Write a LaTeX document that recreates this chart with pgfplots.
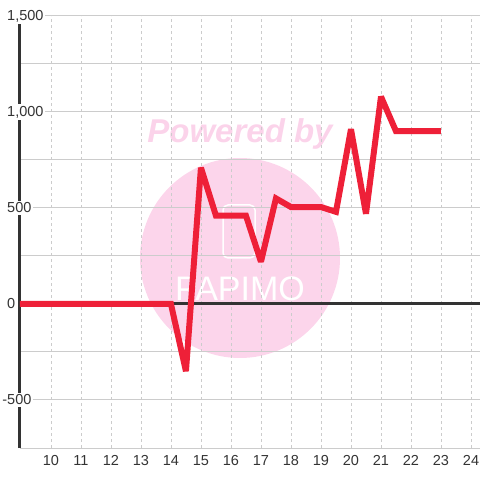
\documentclass[border=0pt]{standalone}
\usepackage{pgfplots}
\pgfplotsset{compat=1.18}
\usepackage{fontspec}
\setmainfont{Liberation Sans}
\definecolor{redline}{HTML}{EE2038}
\definecolor{darkax}{HTML}{333333}
\definecolor{gridc}{HTML}{CCCCCC}
\definecolor{wmpink}{HTML}{FCD5EB}
\definecolor{wmtext}{HTML}{FBD3EA}
\begin{document}
\begin{tikzpicture}
\useasboundingbox (0,0) rectangle (480bp,480bp);
% watermark
\fill[wmpink] (240bp,222bp) circle (100bp);
\node[text=wmtext, font=\fontsize{33bp}{36bp}\selectfont\bfseries\itshape] at (240bp,346bp) {Powered by};
\draw[white, line width=1.5bp, rounded corners=5bp] (223bp,222bp) rectangle (255bp,275bp);
\node[text=white, font=\fontsize{34bp}{36bp}\selectfont] at (240bp,191bp) {PAPIMO};
\begin{axis}[
  at={(20bp,32bp)}, anchor=south west,
  scale only axis, width=460bp, height=432bp,
  xmin=8.97, xmax=24.3, ymin=-750, ymax=1500,
  axis lines*=left,
  x axis line style={draw=none},
  y axis line style={line width=3bp, color=darkax, -},
  xtick={10,...,24},
  ytick={-500,0,500,1000,1500},
  yticklabels={\llap{-}500,0,500,{1,000},{1,500}},
  minor ytick={-750,-250,250,750,1250},
  major tick length=0pt, minor tick length=0pt,
  xmajorgrids, ymajorgrids, yminorgrids,
  x grid style={gridc, dashed, dash pattern=on 3bp off 3bp, line width=0.8bp},
  y grid style={gridc, line width=1bp},
  minor y grid style={gridc, line width=1bp},
  tick label style={font=\fontsize{14.5bp}{16bp}\selectfont, text=darkax},
  yticklabel style={anchor=west, xshift=-15bp, inner sep=2bp, fill=white},
  xticklabel style={yshift=-4bp},
  /pgf/number format/.cd, 1000 sep={,}, assume math mode=true,
]
\addplot[darkax, line width=3bp, forget plot] coordinates {(8.97,0) (24.3,0)};
\addplot[redline, line width=6bp, miter limit=3] coordinates {
(8.9,0) (9.5,0) (10,0) (10.5,0) (11,0) (11.5,0) (12,0) (12.5,0) (13,0) (13.5,0) (14,0)
(14.5,-350) (15,710) (15.5,460) (16,460) (16.5,460) (17,220) (17.5,550) (18,505)
(18.5,505) (19,505) (19.5,480) (20,910) (20.5,470) (21,1080) (21.5,900) (22,900)
(22.5,900) (23,900)};
\end{axis}
\end{tikzpicture}
\end{document}
